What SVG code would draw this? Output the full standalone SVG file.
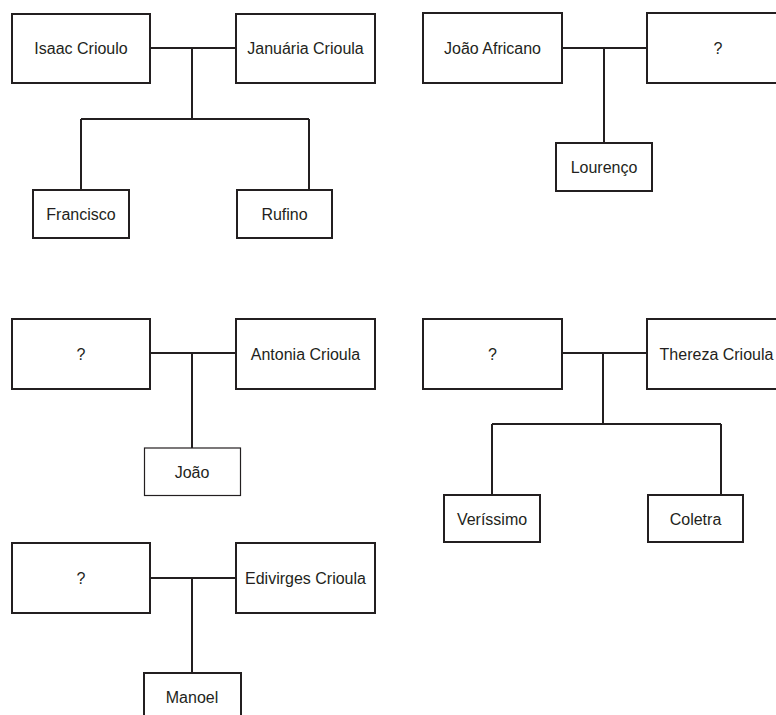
<svg xmlns="http://www.w3.org/2000/svg" width="776" height="715" viewBox="0 0 776 715">
<style>
.box{fill:#fff;stroke:#231f20;stroke-width:2}
.thin{fill:#fff;stroke:#231f20;stroke-width:1.2}
.ln{fill:none;stroke:#231f20;stroke-width:2}
text{font-family:"Liberation Sans",Arial,sans-serif;font-size:16px;fill:#231f20;text-anchor:middle;dominant-baseline:central}
</style>
<rect width="776" height="715" fill="#fff"/>
<g id="connectors">
<path class="ln" d="M150 48H236M192 48V119M81 119H309M81 119V190M309 119V190"/>
<path class="ln" d="M562 48H647M604 48V143"/>
<path class="ln" d="M150 353H236M192 353V448"/>
<path class="ln" d="M562 353H647M603 353V424M492 424H721M492 424V495M721 424V495"/>
<path class="ln" d="M150 578H236M192 578V673"/>
</g>
<g id="isaac"><rect class="box" x="12" y="14" width="138" height="69"/><text x="81" y="48">Isaac Crioulo</text></g>
<g id="januaria"><rect class="box" x="236" y="14" width="139" height="69"/><text x="305.5" y="48">Januária Crioula</text></g>
<g id="francisco"><rect class="box" x="33" y="190" width="96" height="48"/><text x="81" y="214">Francisco</text></g>
<g id="rufino"><rect class="box" x="237" y="190" width="95" height="48"/><text x="284.5" y="214">Rufino</text></g>
<g id="joao-africano"><rect class="box" x="423" y="13" width="139" height="70"/><text x="492.5" y="48">João Africano</text></g>
<g id="unknown1"><rect class="box" x="647" y="13" width="140" height="70"/><text x="718" y="48">?</text></g>
<g id="lourenco"><rect class="box" x="556" y="143" width="96" height="48"/><text x="604" y="167">Lourenço</text></g>
<g id="unknown2"><rect class="box" x="12" y="319" width="138" height="70"/><text x="81" y="354">?</text></g>
<g id="antonia"><rect class="box" x="236" y="319" width="139" height="70"/><text x="305.5" y="354">Antonia Crioula</text></g>
<g id="joao"><rect class="thin" x="144.5" y="448" width="96" height="47.5"/><text x="192" y="472">João</text></g>
<g id="unknown3"><rect class="box" x="423" y="319" width="139" height="70"/><text x="492.5" y="354">?</text></g>
<g id="thereza"><rect class="box" x="647" y="319" width="140" height="70"/><text x="716.5" y="354">Thereza Crioula</text></g>
<g id="verissimo"><rect class="box" x="444" y="495" width="96" height="47"/><text x="492" y="519">Veríssimo</text></g>
<g id="coletra"><rect class="box" x="648" y="495" width="95" height="47"/><text x="695.5" y="519">Coletra</text></g>
<g id="unknown4"><rect class="box" x="12" y="543" width="138" height="70"/><text x="81" y="578">?</text></g>
<g id="edivirges"><rect class="box" x="236" y="543" width="139" height="70"/><text x="305.5" y="578">Edivirges Crioula</text></g>
<g id="manoel"><rect class="box" x="144" y="673" width="97" height="50"/><text x="192" y="697">Manoel</text></g>
</svg>
